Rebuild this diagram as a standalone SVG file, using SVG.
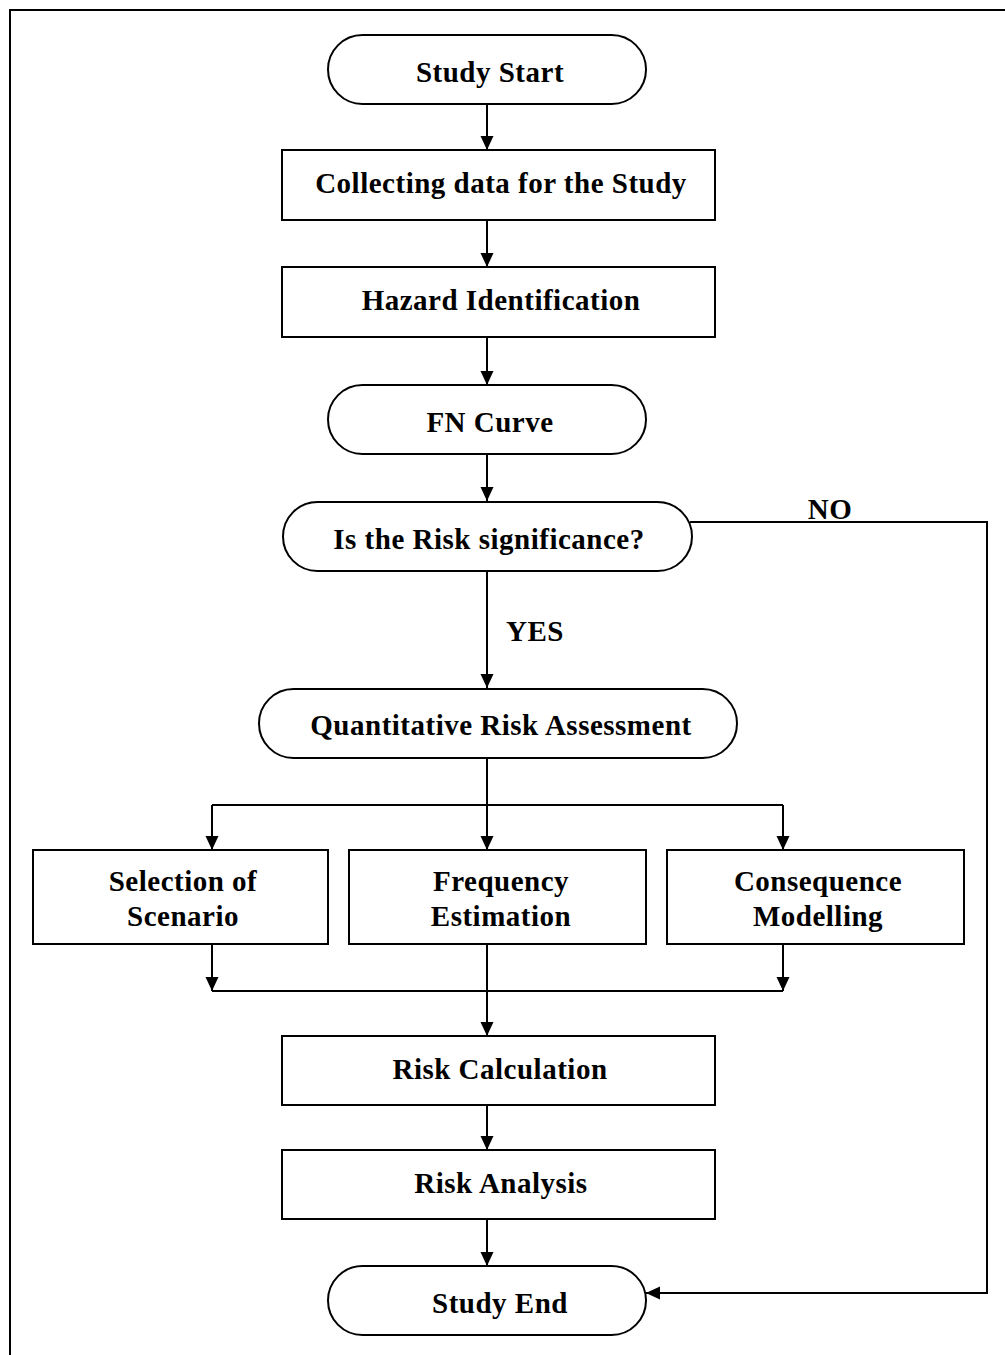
<svg xmlns="http://www.w3.org/2000/svg" width="1005" height="1355" viewBox="0 0 1005 1355">
<style>
.s{fill:#fff;stroke:#000;stroke-width:2}
.t{font-family:"Liberation Serif","Times New Roman",serif;font-weight:bold;font-size:29px;letter-spacing:0.5px;fill:#000;text-anchor:middle}
.c{fill:none;stroke:#000;stroke-width:2}
</style>
<defs>
<marker id="a" markerWidth="13" markerHeight="16" refX="14" refY="8" orient="auto" markerUnits="userSpaceOnUse">
<path d="M0,1.5 L14,8 L0,14.5 Z" fill="#000"/>
</marker>
</defs>
<rect width="1005" height="1355" fill="#fff"/>
<path d="M10,1355 V10 H1005" fill="none" stroke="#000" stroke-width="2"/>
<g id="connectors">
<path class="c" d="M487,104 V150" marker-end="url(#a)"/>
<path class="c" d="M487,220 V267" marker-end="url(#a)"/>
<path class="c" d="M487,337 V385" marker-end="url(#a)"/>
<path class="c" d="M487,454 V501" marker-end="url(#a)"/>
<path class="c" d="M487,571 V688" marker-end="url(#a)"/>
<path class="c" d="M487,758 V850" marker-end="url(#a)"/>
<path class="c" d="M212,805 H783"/>
<path class="c" d="M212,805 V850" marker-end="url(#a)"/>
<path class="c" d="M783,805 V850" marker-end="url(#a)"/>
<path class="c" d="M212,944 V991" marker-end="url(#a)"/>
<path class="c" d="M783,944 V991" marker-end="url(#a)"/>
<path class="c" d="M487,944 V1036" marker-end="url(#a)"/>
<path class="c" d="M212,991 H783"/>
<path class="c" d="M487,1105 V1150" marker-end="url(#a)"/>
<path class="c" d="M487,1219 V1266" marker-end="url(#a)"/>
<path class="c" d="M690,522 H987 V1293 H646" marker-end="url(#a)"/>
<text class="t" x="535" y="641">YES</text>
<text class="t" x="830" y="519">NO</text>
</g>
<g id="study-start">
<rect class="s" x="328" y="35" width="318" height="69" rx="34.5"/>
<text class="t" x="490" y="82">Study Start</text>
</g>
<g id="collecting">
<rect class="s" x="282" y="150" width="433" height="70"/>
<text class="t" x="501" y="193">Collecting data for the Study</text>
</g>
<g id="hazard">
<rect class="s" x="282" y="267" width="433" height="70"/>
<text class="t" x="501" y="310">Hazard Identification</text>
</g>
<g id="fn-curve">
<rect class="s" x="328" y="385" width="318" height="69" rx="34.5"/>
<text class="t" x="490" y="432">FN Curve</text>
</g>
<g id="risk-significance">
<rect class="s" x="283" y="502" width="409" height="69" rx="34.5"/>
<text class="t" x="489" y="549">Is the Risk significance?</text>
</g>
<g id="qra">
<rect class="s" x="259" y="689" width="478" height="69" rx="34.5"/>
<text class="t" x="501" y="735">Quantitative Risk Assessment</text>
</g>
<g id="selection">
<rect class="s" x="33" y="850" width="295" height="94"/>
<text class="t" x="183" y="891">Selection of</text>
<text class="t" x="183" y="926">Scenario</text>
</g>
<g id="frequency">
<rect class="s" x="349" y="850" width="297" height="94"/>
<text class="t" x="501" y="891">Frequency</text>
<text class="t" x="501" y="926">Estimation</text>
</g>
<g id="consequence">
<rect class="s" x="667" y="850" width="297" height="94"/>
<text class="t" x="818" y="891">Consequence</text>
<text class="t" x="818" y="926">Modelling</text>
</g>
<g id="risk-calculation">
<rect class="s" x="282" y="1036" width="433" height="69"/>
<text class="t" x="500" y="1079">Risk Calculation</text>
</g>
<g id="risk-analysis">
<rect class="s" x="282" y="1150" width="433" height="69"/>
<text class="t" x="501" y="1193">Risk Analysis</text>
</g>
<g id="study-end">
<rect class="s" x="328" y="1266" width="318" height="69" rx="34.5"/>
<text class="t" x="500" y="1313">Study End</text>
</g>
</svg>
